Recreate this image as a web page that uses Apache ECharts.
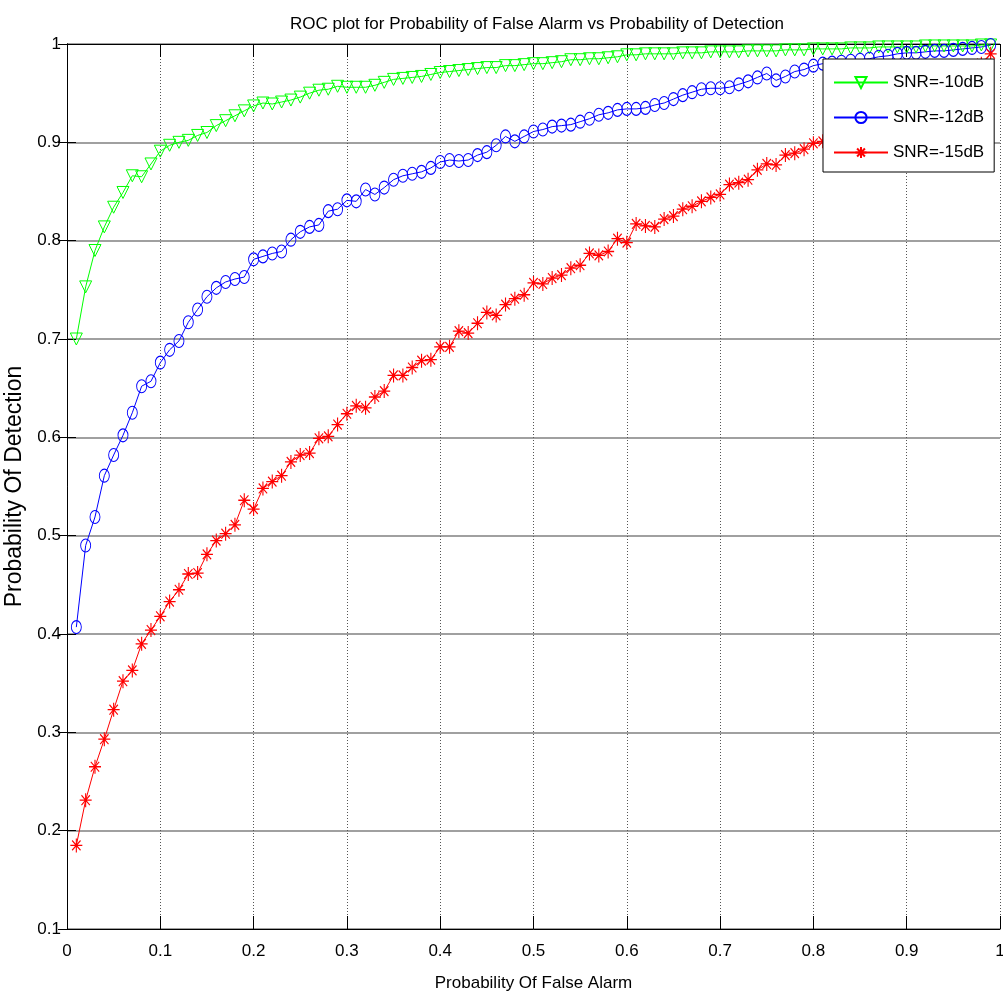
<!DOCTYPE html>
<html>
<head>
<meta charset="utf-8">
<script src="https://cdn.jsdelivr.net/npm/echarts@6/dist/echarts.min.js"></script>
<style>html,body{margin:0;padding:0;background:#fff}#c{width:1003px;height:995px}</style>
</head>
<body>
<div id="c"></div>
<script>
const titleText = 'ROC plot for Probability of False Alarm vs Probability of Detection';
const xName = 'Probability Of False Alarm';
const yName = 'Probability Of Detection';
const seriesNames = ['SNR=-10dB', 'SNR=-12dB', 'SNR=-15dB'];
const xTickLabels = ['0','0.1','0.2','0.3','0.4','0.5','0.6','0.7','0.8','0.9','1'];
const yTickLabels = ['0','0.1','0.2','0.3','0.4','0.5','0.6','0.7','0.8','0.9','1'];

const pfa = [0.01,0.02,0.03,0.04,0.05,0.06,0.07,0.08,0.09,0.10,
0.11,0.12,0.13,0.14,0.15,0.16,0.17,0.18,0.19,0.20,
0.21,0.22,0.23,0.24,0.25,0.26,0.27,0.28,0.29,0.30,
0.31,0.32,0.33,0.34,0.35,0.36,0.37,0.38,0.39,0.40,
0.41,0.42,0.43,0.44,0.45,0.46,0.47,0.48,0.49,0.50,
0.51,0.52,0.53,0.54,0.55,0.56,0.57,0.58,0.59,0.60,
0.61,0.62,0.63,0.64,0.65,0.66,0.67,0.68,0.69,0.70,
0.71,0.72,0.73,0.74,0.75,0.76,0.77,0.78,0.79,0.80,
0.81,0.82,0.83,0.84,0.85,0.86,0.87,0.88,0.89,0.90,
0.91,0.92,0.93,0.94,0.95,0.96,0.97,0.98,0.99];

const pdSnr10 = [0.700,0.753,0.790,0.814,0.834,0.849,0.866,0.865,0.878,0.891,
0.897,0.900,0.902,0.907,0.910,0.917,0.922,0.927,0.932,0.937,
0.940,0.939,0.941,0.943,0.946,0.950,0.953,0.954,0.957,0.956,
0.956,0.956,0.958,0.961,0.964,0.965,0.966,0.967,0.969,0.971,
0.972,0.973,0.974,0.975,0.976,0.976,0.978,0.978,0.979,0.980,
0.980,0.981,0.982,0.984,0.984,0.985,0.985,0.986,0.987,0.989,
0.989,0.990,0.990,0.990,0.990,0.991,0.991,0.991,0.992,0.992,
0.992,0.992,0.993,0.993,0.993,0.993,0.994,0.994,0.994,0.995,
0.995,0.995,0.995,0.996,0.996,0.996,0.997,0.997,0.997,0.997,
0.997,0.998,0.998,0.998,0.998,0.998,0.998,0.999,0.999];

const pdSnr12 = [0.407,0.490,0.519,0.561,0.582,0.602,0.625,0.652,0.657,0.676,
0.689,0.698,0.717,0.730,0.743,0.752,0.758,0.761,0.763,0.781,
0.784,0.787,0.789,0.801,0.809,0.814,0.816,0.830,0.832,0.841,
0.840,0.852,0.847,0.854,0.862,0.866,0.868,0.870,0.874,0.880,
0.882,0.881,0.882,0.887,0.890,0.897,0.906,0.901,0.906,0.911,
0.913,0.916,0.917,0.918,0.921,0.924,0.928,0.930,0.933,0.934,
0.934,0.935,0.938,0.940,0.944,0.948,0.951,0.954,0.955,0.955,
0.956,0.959,0.962,0.966,0.970,0.963,0.967,0.972,0.974,0.978,
0.980,0.981,0.982,0.983,0.984,0.985,0.987,0.988,0.990,0.991,
0.991,0.992,0.993,0.993,0.994,0.995,0.996,0.997,0.999];

const pdSnr15 = [0.185,0.231,0.265,0.293,0.323,0.352,0.363,0.390,0.404,0.418,
0.433,0.445,0.461,0.462,0.481,0.495,0.502,0.511,0.536,0.527,
0.548,0.555,0.561,0.575,0.582,0.584,0.599,0.601,0.613,0.624,
0.632,0.630,0.641,0.647,0.663,0.663,0.671,0.678,0.679,0.692,
0.692,0.708,0.706,0.716,0.727,0.724,0.735,0.741,0.745,0.757,
0.756,0.762,0.765,0.772,0.775,0.787,0.785,0.789,0.802,0.798,
0.817,0.815,0.814,0.822,0.825,0.832,0.835,0.840,0.844,0.847,
0.857,0.859,0.862,0.872,0.878,0.877,0.887,0.889,0.893,0.899,
0.901,0.905,0.910,0.912,0.918,0.922,0.926,0.930,0.936,0.940,
0.944,0.948,0.953,0.958,0.963,0.968,0.974,0.980,0.990];

const FONT = "'Liberation Sans', Arial, sans-serif";
const FS = 17;
const pair = (ys) => pfa.map((x, i) => [x, ys[i]]);

const triDown = 'path://M0,0L12,0L6,11Z';
const star = 'path://M6,0L6,12M0,6L12,6M1.8,1.8L10.2,10.2M1.8,10.2L10.2,1.8';

function mkSeries(name, data, color, symbol, size, bw) {
  return {
    name: name, type: 'line', data: pair(data),
    symbol: symbol, symbolSize: size,
    lineStyle: { color: color, width: 1 },
    itemStyle: { color: 'rgba(0,0,0,0)', borderColor: color, borderWidth: bw },
    emphasis: { disabled: true },
    clip: false
  };
}

const chart = echarts.init(document.getElementById('c'), null, { renderer: 'canvas' });
chart.setOption({
  animation: false,
  backgroundColor: '#fff',
  textStyle: { fontFamily: FONT, color: '#000' },
  title: {
    text: titleText, left: 532, top: 11, textAlign: 'center',
    textStyle: { fontFamily: FONT, fontSize: FS, fontWeight: 'normal', color: '#000' }
  },
  grid: { left: 67, right: 3, top: 44, bottom: 66, containLabel: false, outerBoundsMode: 'none' },
  legend: {
    left: 823, top: 59, orient: 'vertical',
    backgroundColor: '#fff', borderColor: '#000', borderWidth: 1, borderRadius: 0,
    padding: [13, 10, 9, 10], itemGap: 14, itemWidth: 54, itemHeight: 14,
    textStyle: { fontFamily: FONT, fontSize: FS, color: '#000', lineHeight: 21 },
    data: seriesNames
  },
  xAxis: [{
    type: 'value', min: 0, max: 1, interval: 0.1,
    name: xName, nameLocation: 'middle', nameGap: 46,
    nameTextStyle: { fontFamily: FONT, fontSize: FS, color: '#000' },
    axisLine: { lineStyle: { color: '#000', width: 1 } },
    axisTick: { inside: true, length: 13, lineStyle: { color: '#000' } },
    axisLabel: { margin: 14, fontFamily: FONT, fontSize: FS, color: '#000',
      formatter: (v) => xTickLabels[Math.round(v * 10)] },
    splitLine: { show: true, lineStyle: { color: '#555', width: 1, type: [1, 2] } }
  }, {
    type: 'value', min: 0, max: 1, interval: 0.1, position: 'top',
    axisLine: { show: true, lineStyle: { color: '#000', width: 1 } },
    axisTick: { inside: true, length: 13, lineStyle: { color: '#000' } },
    axisLabel: { show: false }, splitLine: { show: false }
  }],
  yAxis: [{
    type: 'value', min: 0.1, max: 1, interval: 0.1,
    name: yName, nameLocation: 'middle', nameGap: 35,
    nameTextStyle: { fontFamily: FONT, fontSize: 23, color: '#000' },
    axisLine: { show: true, lineStyle: { color: '#000', width: 1 } },
    axisTick: { show: true, inside: true, length: 9, lineStyle: { color: '#000' } },
    axisLabel: { margin: 6, fontFamily: FONT, fontSize: FS, color: '#000',
      formatter: (v) => yTickLabels[Math.round(v * 10)] },
    splitLine: { show: true, lineStyle: { color: '#808080', width: 1.5 } }
  }, {
    type: 'value', min: 0.1, max: 1, interval: 0.1, position: 'right',
    axisLine: { show: true, lineStyle: { color: '#000', width: 1 } },
    axisTick: { show: true, inside: true, length: 9, lineStyle: { color: '#000' } },
    axisLabel: { show: false }, splitLine: { show: false }
  }],
  series: [
    mkSeries(seriesNames[0], pdSnr10, '#00ff00', triDown, [12, 12], 1),
    mkSeries(seriesNames[1], pdSnr12, '#0000ff', 'circle', [10, 13], 1),
    mkSeries(seriesNames[2], pdSnr15, '#ff0000', star, [12, 14], 1.2)
  ]
});
</script>
</body>
</html>
